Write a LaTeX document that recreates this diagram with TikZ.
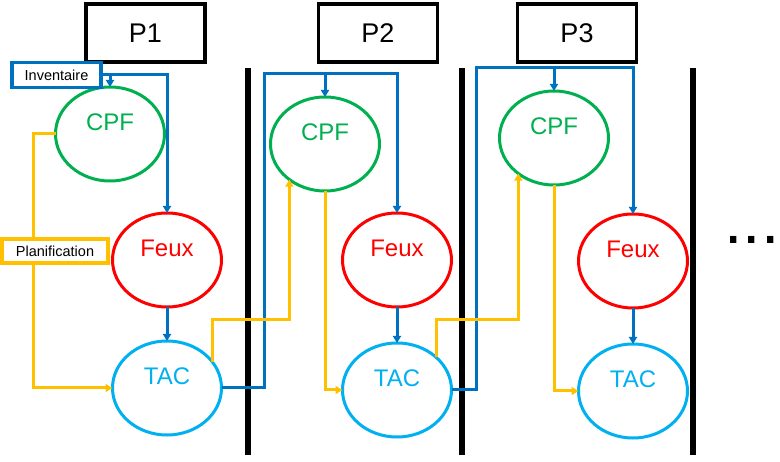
\documentclass[tikz,border=0pt]{standalone}
\usepackage{fontspec}
\setmainfont{Liberation Sans}
\usetikzlibrary{shapes.geometric,arrows.meta}

\definecolor{cpfgreen}{RGB}{0,176,80}
\definecolor{feuxred}{RGB}{255,0,0}
\definecolor{taccyan}{RGB}{0,176,240}
\definecolor{invblue}{RGB}{0,112,192}
\definecolor{planyellow}{RGB}{255,192,0}

\begin{document}
\begin{tikzpicture}[x=1pt,y=-1pt,
  every node/.style={outer sep=0pt},
  bubble/.style={ellipse, draw, line width=3pt, fill=white, minimum width=109pt, minimum height=94pt},
  cpf/.style={bubble, draw=cpfgreen, label={[text=cpfgreen, font=\fontsize{24}{24}\selectfont, yshift=12pt]center:CPF}},
  feux/.style={bubble, draw=feuxred, label={[text=feuxred, font=\fontsize{24}{24}\selectfont, yshift=12pt]center:Feux}},
  tac/.style={bubble, draw=taccyan, label={[text=taccyan, font=\fontsize{24}{24}\selectfont, yshift=12pt]center:TAC}},
  phase/.style={rectangle, draw, line width=3.5pt, minimum width=119pt, minimum height=58pt, font=\fontsize{27}{27}\selectfont},
  tag/.style={rectangle, line width=3.5pt, fill=white, font=\fontsize{14.5}{14.5}\selectfont},
  blu/.style={draw=invblue, line width=3pt, -{Triangle[length=7pt,width=8pt]}},
  yel/.style={draw=planyellow, line width=3pt, -{Triangle[length=7pt,width=8pt]}},
  bar/.style={line width=6.5pt}]
\useasboundingbox (0,0) rectangle (780,462);

\node[phase] (p1) at (145.5,33) {P1};
\node[phase] (p2) at (378,33) {P2};
\node[phase] (p3) at (577,33) {P3};

\draw[bar] (248,68) -- (248,455);
\draw[bar] (462,68) -- (462,455);
\draw[bar] (693,68) -- (693,455);

\node[cpf] (cpf1) at (110,134) {};
\node[feux] (feux1) at (167,260) {};
\node[tac] (tac1) at (167,388) {};
\node[cpf] (cpf2) at (325,144) {};
\node[feux] (feux2) at (397,260) {};
\node[tac] (tac2) at (397,390) {};
\node[cpf] (cpf3) at (554,138) {};
\node[feux] (feux3) at (633,261) {};
\node[tac] (tac3) at (633,391) {};

\node[tag, draw=invblue, minimum width=89pt, minimum height=25pt] (inv) at (56.5,75) {Inventaire};

\coordinate (b1) at (264,74);
\coordinate (b2) at (476,68);
\coordinate (k1) at (0,320);

\draw[blu] (inv.east) -| (feux1.north);
\draw[blu] (inv.east -| cpf1.north) -- (cpf1.north);
\draw[blu] (feux1.south) -- (tac1.north);
\draw[blu] (tac1.east) -| (b1) -| (feux2.north);
\draw[blu] (cpf2.north |- b1) -- (cpf2.north);
\draw[blu] (feux2.south) -- (tac2.north);
\draw[blu] (tac2.east) -| (b2) -| (feux3.north);
\draw[blu] (cpf3.north |- b2) -- (cpf3.north);
\draw[blu] (feux3.south) -- (tac3.north);

\draw[yel] (cpf1.west) -- ++(-22,0) |- (tac1.west);
\draw[yel] (tac1.30) -- (tac1.30 |- k1) -| (cpf2.225);
\draw[yel] (cpf2.south) |- (tac2.west);
\draw[yel] (tac2.40) -- (tac2.40 |- k1) -| (cpf3.225);
\draw[yel] (cpf3.south) |- (tac3.west);

\node[tag, draw=planyellow, minimum width=106pt, minimum height=24pt] (plan) at (55,251) {Planification};

\node[anchor=base, font=\fontsize{66}{66}\selectfont] (dots) at (752,244) {...};
\end{tikzpicture}
\end{document}
